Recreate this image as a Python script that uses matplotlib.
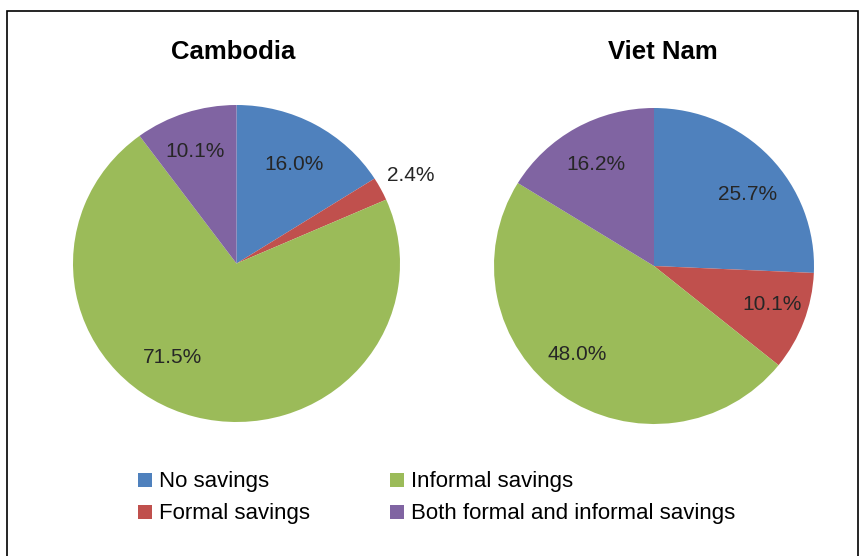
#!/usr/bin/env python3
"""Savings behaviour pies: Cambodia vs Viet Nam."""

import matplotlib
matplotlib.use("Agg")
import matplotlib.pyplot as plt
from matplotlib.patches import Rectangle

categories = ["No savings", "Formal savings", "Informal savings",
              "Both formal and informal savings"]
cambodia = [16.0, 2.4, 71.5, 10.1]
viet_nam = [25.7, 10.1, 48.0, 16.2]
colors = ["#4F81BD", "#C0504D", "#9BBB59", "#8064A2"]

# label positions (pie radius units)
cambodia_lbl = [(0.355, 0.64), (1.067, 0.571), (-0.394, -0.577), (-0.254, 0.722)]
viet_lbl = [(0.5875, 0.468), (0.7375, -0.228), (-0.481, -0.544), (-0.3625, 0.658)]

plt.rcParams["font.family"] = ["Liberation Sans", "DejaVu Sans"]

W, H = 859, 556
fig = plt.figure(figsize=(W / 100, H / 100), dpi=100)

# outer frame (open at the bottom, like the cropped original)
fig.patches.append(Rectangle((7 / W, -0.05), (858 - 7) / W, 1.05 - 11 / H,
                             transform=fig.transFigure, fill=False,
                             edgecolor="black", linewidth=1.2))


def draw_pie(cx, cy, rx, ry, values, lbl_pos):
    ax = fig.add_axes([(cx - rx) / W, 1 - (cy + ry) / H, 2 * rx / W, 2 * ry / H])
    ax.pie(values, colors=colors, startangle=90, counterclock=False,
           wedgeprops=dict(linewidth=0))
    ax.set_aspect("auto")
    ax.set_xlim(-1, 1)
    ax.set_ylim(-1, 1)
    for v, (x, y) in zip(values, lbl_pos):
        # small downward nudge: digits have no descenders
        ax.annotate(f"{v:.1f}%", (x, y), xytext=(0, -1.5),
                    textcoords="offset points", ha="center", va="center",
                    fontsize=15, color="#262626", annotation_clip=False)
    return ax


draw_pie(236.5, 263.5, 163.5, 158.5, cambodia, cambodia_lbl)
draw_pie(654, 266, 160, 158, viet_nam, viet_lbl)

fig.text(233 / W, 1 - 52 / H, "Cambodia", ha="center", va="center",
         fontsize=18.5, fontweight="bold")
fig.text(663 / W, 1 - 52 / H, "Viet Nam", ha="center", va="center",
         fontsize=18.5, fontweight="bold")

# legend, two columns filled top-down
col_x = [138, 390]
row_y = [480, 512]
for i, (name, c) in enumerate(zip(categories, colors)):
    x0 = col_x[i // 2]
    y0 = row_y[i % 2]
    fig.patches.append(Rectangle((x0 / W, 1 - (y0 + 7) / H), 14 / W, 14 / H,
                                 transform=fig.transFigure, facecolor=c,
                                 edgecolor="none"))
    fig.text((x0 + 21) / W, 1 - (y0 + 1) / H, name, ha="left", va="center",
             fontsize=16, color="black")

fig.savefig("out.png", dpi=100)
